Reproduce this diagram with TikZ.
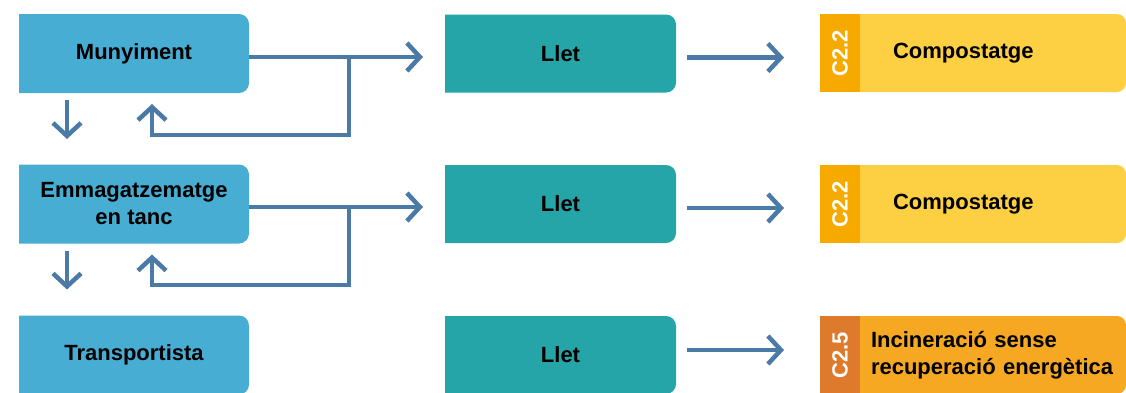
\documentclass[tikz,border=0pt]{standalone}
\usepackage{fontspec}
\setmainfont{Liberation Sans}
\usetikzlibrary{arrows.meta,backgrounds}

\definecolor{boxblue}{HTML}{47ADD3}
\definecolor{boxteal}{HTML}{25A5A7}
\definecolor{flowblue}{HTML}{4A7AA5}
\definecolor{tabyellow}{HTML}{F6AA00}
\definecolor{bodyyellow}{HTML}{FDD043}
\definecolor{taborange}{HTML}{DE7A2B}
\definecolor{bodyorange}{HTML}{F6A823}

\begin{document}
\begin{tikzpicture}[x=1pt,y=-1pt,
    every node/.style={font=\fontsize{22}{27}\selectfont\bfseries, inner sep=0pt, outer sep=0pt},
    leftbox/.style={minimum width=230pt, minimum height=79pt, align=center},
    midbox/.style={minimum width=231pt, minimum height=78pt},
    tabbox/.style={rotate=90, text=white, minimum width=78pt, minimum height=40pt},
    bodybox/.style={minimum height=78pt, align=left},
    flow/.style={draw=flowblue, line width=4.5pt, -{Straight Barb[length=13pt,width=28pt]}}]

\useasboundingbox (0,0) rectangle (1126,392);
\clip (0,0) rectangle (1126,392);

%% left boxes
\node[leftbox] (mun) at (134,53.5) {Munyiment};
\node[leftbox] (emm) at (134,204) {Emmagatzematge\\en tanc};
\node[leftbox] (tra) at (134,355) {Transportista};

%% milk boxes
\node[midbox] (llet1) at (560.5,53.5) {Llet};
\node[midbox] (llet2) at (560.5,204) {Llet};
\node[midbox] (llet3) at (560.5,355) {Llet};

%% code tabs
\node[tabbox, fill=tabyellow] (tab1) at (840,53) {C2.2};
\node[tabbox, fill=tabyellow] (tab2) at (840,204) {C2.2};
\node[tabbox, fill=taborange] (tab3) at (840,355) {C2.5};

%% treatment boxes
\node[bodybox, text width=200pt, inner xsep=33pt] (comp1) at (993,53) {Compostatge};
\node[bodybox, text width=200pt, inner xsep=33pt] (comp2) at (993,204) {Compostatge};
\node[bodybox, text width=244pt, inner xsep=11pt] (inc) at (993,355) {Incineraci\'o sense\\recuperaci\'o energ\`etica};

%% box fills, right corners rounded
\begin{scope}[on background layer]
\fill[boxblue] (mun.south west) -- (mun.north west) [rounded corners=10pt] -- (mun.north east) -- (mun.south east) [sharp corners] -- cycle;
\fill[boxblue] (emm.south west) -- (emm.north west) [rounded corners=10pt] -- (emm.north east) -- (emm.south east) [sharp corners] -- cycle;
\fill[boxblue] (tra.south west) -- (tra.north west) [rounded corners=10pt] -- (tra.north east) -- (tra.south east) [sharp corners] -- cycle;
\fill[boxteal] (llet1.south west) -- (llet1.north west) [rounded corners=10pt] -- (llet1.north east) -- (llet1.south east) [sharp corners] -- cycle;
\fill[boxteal] (llet2.south west) -- (llet2.north west) [rounded corners=10pt] -- (llet2.north east) -- (llet2.south east) [sharp corners] -- cycle;
\fill[boxteal] (llet3.south west) -- (llet3.north west) [rounded corners=10pt] -- (llet3.north east) -- (llet3.south east) [sharp corners] -- cycle;
\fill[bodyyellow] (comp1.south west) -- (comp1.north west) [rounded corners=9pt] -- (comp1.north east) -- (comp1.south east) [sharp corners] -- cycle;
\fill[bodyyellow] (comp2.south west) -- (comp2.north west) [rounded corners=9pt] -- (comp2.north east) -- (comp2.south east) [sharp corners] -- cycle;
\fill[bodyorange] (inc.south west) -- (inc.north west) [rounded corners=9pt] -- (inc.north east) -- (inc.south east) [sharp corners] -- cycle;
\end{scope}

%% branch points
\coordinate (mun-br) at (349,57);
\coordinate (emm-br) at (349,207);

%% flows
\draw[flow, shorten >=22pt] ([yshift=-3.5pt]mun.east) -- ([yshift=-3.5pt]llet1.west);   %% mun-llet1
\draw[flow] (mun-br) -- ++(0,78) -| ([xshift=18pt,yshift=-11pt]mun.south);             %% mun back
\draw[flow] ([xshift=-67pt,yshift=-7pt]mun.south) -- ++(0,39);                          %% mun-emm
\draw[flow, shorten >=22pt] ([yshift=-3pt]emm.east) -- ([yshift=-3pt]llet2.west);       %% emm-llet2
\draw[flow] (emm-br) -- ++(0,78) -| ([xshift=18pt,yshift=-11pt]emm.south);             %% emm back
\draw[flow] ([xshift=-67pt,yshift=-7pt]emm.south) -- ++(0,39);                          %% emm-tra
\draw[flow, shorten <=11pt, shorten >=56pt] ([yshift=-4pt]llet1.east) -- ([yshift=-4pt]llet1.east -| tab1.center);  %% llet1-comp1
\draw[flow, shorten <=11pt, shorten >=56pt] ([yshift=-4pt]llet2.east) -- ([yshift=-4pt]llet2.east -| tab2.center);  %% llet2-comp2
\draw[flow, shorten <=11pt, shorten >=56pt] ([yshift=5pt]llet3.east) -- ([yshift=5pt]llet3.east -| tab3.center);    %% llet3-inc
\end{tikzpicture}
\end{document}
